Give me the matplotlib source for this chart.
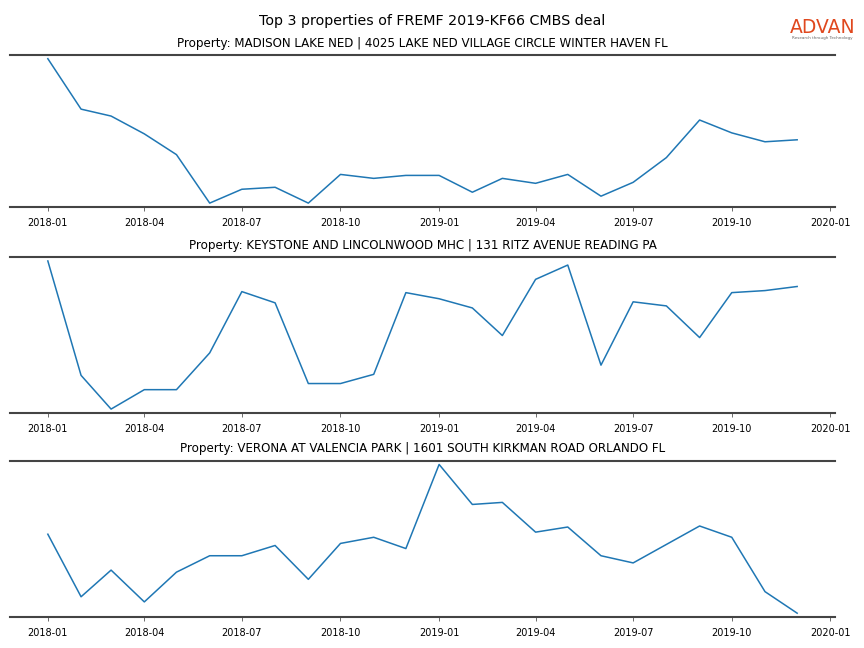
import matplotlib
matplotlib.use("Agg")
import matplotlib.pyplot as plt
import matplotlib.dates as mdates
import pandas as pd

months = pd.date_range("2018-01-01", "2019-12-01", freq="MS")

titles = [
    "Property: MADISON LAKE NED | 4025 LAKE NED VILLAGE CIRCLE WINTER HAVEN FL",
    "Property: KEYSTONE AND LINCOLNWOOD MHC | 131 RITZ AVENUE READING PA",
    "Property: VERONA AT VALENCIA PARK | 1601 SOUTH KIRKMAN ROAD ORLANDO FL",
]

madison = [149, 98, 91, 73, 52, 3, 17, 19, 3, 32, 28, 31,
           31, 14, 28, 23, 32, 10, 24, 49, 87, 74, 65, 67]
keystone = [150, 38, 5, 24, 24, 60, 120, 109, 30, 30, 39, 119,
            113, 104, 77, 132, 146, 48, 110, 106, 75, 119, 121, 125]
verona = [82, 21, 47, 16, 45, 61, 61, 71, 38, 73, 79, 68,
          150, 111, 113, 84, 89, 61, 54, 72, 90, 79, 26, 5]

series = [madison, keystone, verona]
bounds = [(0.681, 0.915), (0.363, 0.603), (0.048, 0.289)]

fig = plt.figure(figsize=(8.64, 6.48), dpi=100)
fig.suptitle("Top 3 properties of FREMF 2019-KF66 CMBS deal", fontsize=10.3, y=0.979)

for vals, title, (b, t) in zip(series, titles, bounds):
    ax = fig.add_axes([0.012, b, 0.954, t - b])
    ax.plot(months, vals, color="#1f77b4", linewidth=1.1)
    ax.margins(y=0.025)
    ax.set_title(title, fontsize=8.55, pad=6)
    ax.xaxis.set_major_locator(mdates.MonthLocator(bymonth=[1, 4, 7, 10]))
    ax.xaxis.set_major_formatter(mdates.DateFormatter("%Y-%m"))
    ax.tick_params(axis="x", labelsize=7, length=3, width=0.6, color="#555555", pad=5)
    ax.set_yticks([])
    for side in ["left", "right"]:
        ax.spines[side].set_visible(False)
    for side in ["top", "bottom"]:
        ax.spines[side].set_linewidth(1.5)
        ax.spines[side].set_color("#444444")

# logo
fig.text(0.9145, 0.958, "ADVAN", fontsize=13.5, color="#e0481e", ha="left", va="center")
fig.text(0.9165, 0.941, "Research through Technology", fontsize=3.0, color="#666666",
         ha="left", va="center")

fig.savefig("out.png", dpi=100)
